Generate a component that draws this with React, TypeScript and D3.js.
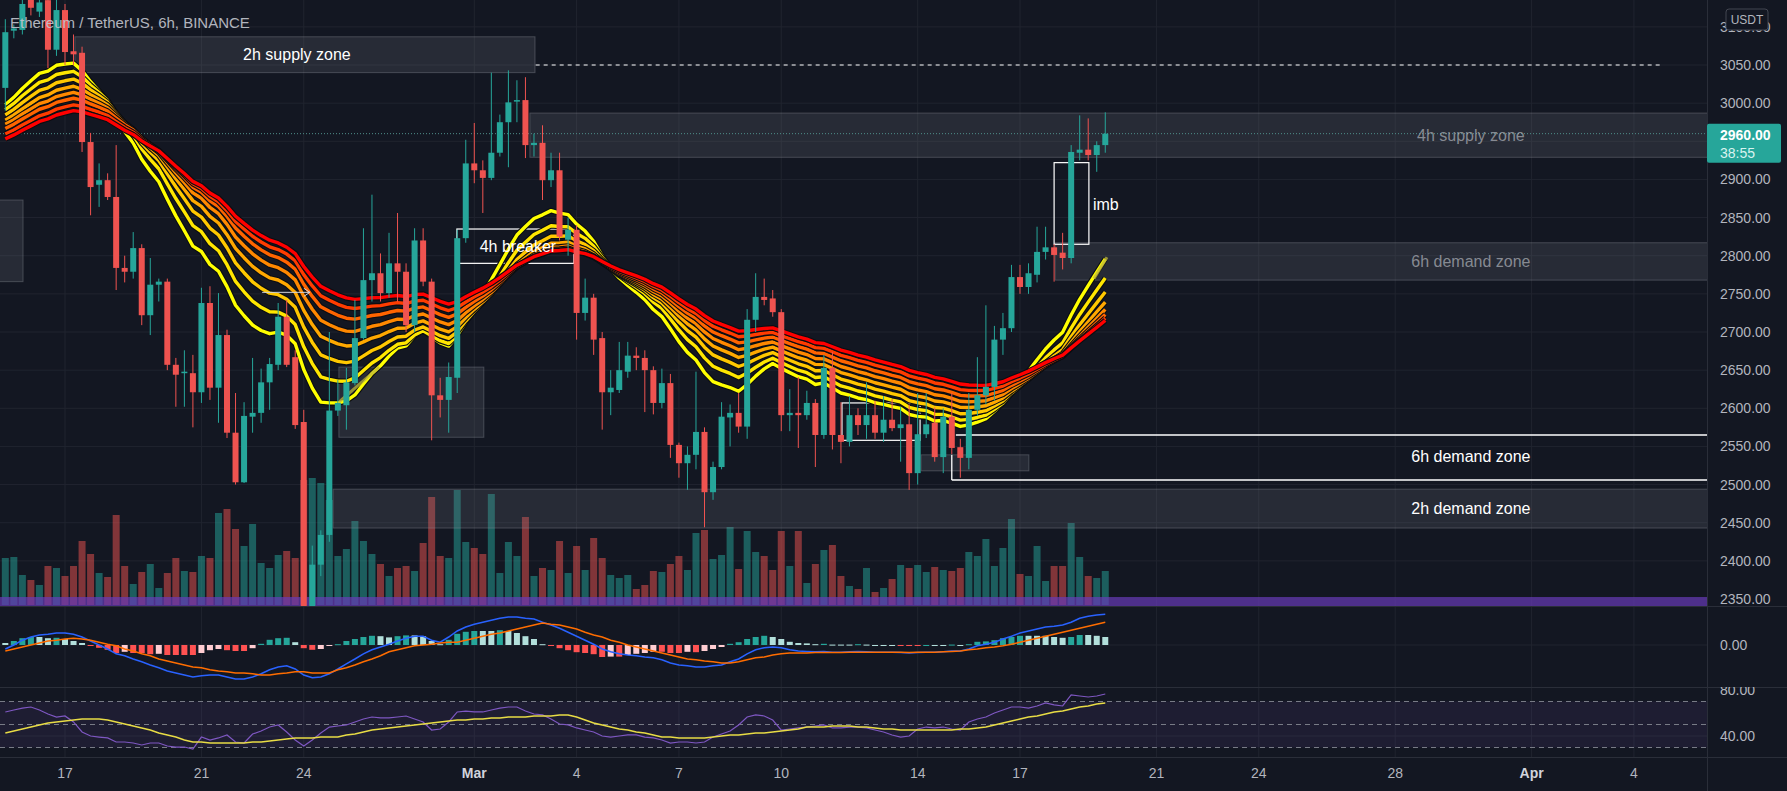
import React from "react";
import * as d3 from "d3";

const DAY = 86400000;
const DAY0 = Date.UTC(2022, 1, 17);
const T0 = Date.UTC(2022, 1, 15, 6);
const BAR_MS = 6 * 3600 * 1000;
const W = 1787, H = 791, PLOT_R = 1707;

const openP = [3020,3095,3096,3140,3120,3135,3070,3122,3068,3066, 2949,2893,2899,2877,2784,2779,2810,2722,2762,2766, 2657,2646,2646,2621,2738,2627,2696,2568,2503,2589, 2594,2634,2657,2720,2667,2582,2330,2395,2434,2597, 2604,2633,2692,2768,2777,2751,2790,2779,2709,2820, 2766,2617,2611,2640,2823,2921,2912,2902,2935,2975, 3002,3004,2945,2948,2899,2912,2821,2834,2725,2745, 2692,2621,2624,2648,2669,2666,2650,2607,2633,2552, 2528,2539,2569,2490,2523,2588,2594,2576,2716,2746, 2744,2726,2591,2594,2591,2607,2565,2653,2565,2556, 2591,2578,2591,2568,2585,2574,2579,2515,2566,2581, 2536,2589,2549,2535,2598,2617,2628,2690,2705,2772, 2759,2775,2805,2811,2804,2797,2935,2939,2932,2945];
const highP = [3110,3103,3140,3150,3145,3150,3140,3130,3090,3074, 2961,2921,2908,2945,2800,2831,2815,2797,2770,2770, 2666,2676,2670,2758,2760,2751,2703,2620,2608,2666, 2652,2666,2738,2742,2676,2598,2420,2440,2700,2637, 2653,2742,2836,2880,2803,2830,2856,2790,2836,2836, 2770,2640,2660,2834,2952,2974,2925,3040,2985,3043, 3030,3034,2960,2971,2935,2935,2850,2840,2770,2750, 2700,2650,2687,2687,2680,2676,2655,2652,2645,2555, 2550,2648,2575,2530,2608,2605,2620,2730,2777,2770, 2755,2730,2625,2641,2623,2612,2670,2674,2608,2616, 2600,2634,2610,2616,2612,2602,2605,2620,2620,2601, 2600,2620,2560,2620,2667,2735,2708,2725,2788,2788, 2790,2838,2838,2815,2830,2945,2984,2980,2950,2988];
const lowP = [2990,3085,3090,3115,3113,3046,3062,3050,3050,2936, 2853,2864,2873,2755,2765,2770,2709,2696,2740,2650, 2602,2602,2575,2607,2611,2581,2561,2500,2502,2568, 2581,2598,2650,2654,2573,2300,2300,2380,2425,2590, 2572,2630,2690,2740,2740,2745,2740,2700,2700,2760, 2558,2588,2568,2620,2817,2895,2856,2899,2930,2916, 2975,2928,2930,2873,2890,2820,2800,2690,2715,2670, 2572,2591,2620,2640,2650,2595,2592,2600,2535,2509, 2493,2520,2444,2480,2520,2550,2568,2560,2700,2735, 2720,2570,2570,2548,2585,2523,2560,2546,2528,2550, 2565,2560,2560,2556,2570,2530,2493,2500,2561,2530, 2515,2540,2509,2520,2590,2605,2610,2670,2700,2750, 2750,2765,2795,2766,2782,2790,2925,2925,2910,2935];
const closeP = [3093,3098,3130,3125,3132,3070,3122,3067,3064,2949, 2890,2899,2877,2784,2779,2810,2722,2762,2766,2657, 2644,2648,2621,2738,2627,2696,2568,2503,2590,2594, 2634,2658,2720,2657,2578,2330,2395,2434,2597,2607, 2634,2692,2768,2777,2751,2790,2779,2709,2820,2766, 2617,2611,2641,2823,2921,2912,2902,2935,2975,3001, 3004,2945,2948,2899,2912,2825,2834,2725,2745,2690, 2621,2627,2650,2669,2666,2650,2607,2633,2552,2528, 2539,2569,2490,2523,2589,2594,2576,2716,2746,2742, 2726,2591,2594,2591,2607,2565,2653,2565,2556,2591, 2578,2591,2568,2585,2574,2579,2515,2566,2579,2536, 2589,2548,2535,2598,2617,2628,2690,2705,2772,2759, 2777,2805,2811,2801,2797,2936,2939,2932,2945,2960];
const volume = [47,48,30,25,20,39,37,29,39,64, 51,32,28,90,39,21,33,41,17,32, 47,34,33,49,47,92,96,76,59,81, 42,37,50,54,47,125,127,122,105,49, 56,84,64,51,41,29,37,39,34,62, 108,49,47,115,63,57,51,111,32,63, 49,88,29,37,35,64,32,59,35,67, 47,30,27,30,16,20,34,33,41,49, 35,72,75,46,50,78,36,74,53,49, 35,74,39,74,22,41,55,60,29,19, 16,37,13,17,26,40,37,40,33,38, 35,34,37,53,49,66,39,57,86,31, 29,59,24,39,39,82,48,29,27,34];
const macdLine = [-10,0,12,20,25,27,30,30,27,20, 10,0,-10,-22,-27,-35,-42,-50,-57,-65, -70,-75,-80,-77,-75,-75,-80,-85,-85,-80, -72,-62,-55,-52,-60,-75,-82,-80,-72,-60, -47,-35,-22,-12,-5,2,10,17,22,22, 12,7,20,35,45,52,57,62,67,70, 70,67,65,57,50,42,32,22,12,2, -10,-17,-22,-25,-27,-30,-32,-37,-45,-50, -52,-55,-55,-52,-50,-42,-35,-22,-12,-7, -5,-7,-12,-15,-16,-17,-16,-18,-18,-17, -16,-17,-18,-18,-18,-19,-20,-19,-18,-18, -17,-15,-15,-10,-2,2,7,15,22,30, 35,40,45,47,50,57,67,72,75,77];
const signalLine = [-15,-10,-5,0,5,10,12,15,17,15, 12,7,2,-2,-10,-15,-22,-27,-35,-40, -45,-50,-55,-57,-62,-65,-67,-70,-70,-72, -75,-75,-72,-70,-67,-67,-70,-70,-70,-62, -57,-50,-42,-35,-27,-17,-12,-7,-2,0, 2,5,7,7,12,17,22,27,30,35, 40,45,50,55,52,50,45,40,32,25, 20,12,7,0,-5,-10,-15,-20,-25,-30, -35,-37,-40,-42,-45,-45,-42,-37,-32,-30, -25,-22,-20,-20,-20,-19,-19,-19,-19,-18, -18,-18,-18,-18,-18,-18,-19,-18,-18,-18, -17,-16,-15,-12,-10,-7,-5,-2,2,7, 12,17,22,27,32,37,42,47,52,57];
const rsiLine = [60.9,62.6,64.3,65.2,62.6,59.1,56.5,57.4,52.2,43.5, 40,39.1,38.3,34.8,34.8,33.9,32.2,33.9,33.9,31.3, 30.4,30.4,28.7,39.1,36.5,38.3,40.9,34.8,33.9,41.7, 44.3,47.8,49.6,43.5,36.5,31.3,36.5,42.6,47.8,48.7, 49.6,52.2,54.8,56.5,55.7,55.7,56.5,57.4,54.8,52.2, 45.2,46.1,52.2,60.9,61.7,60.9,60.9,62.6,64.3,65.2, 65.2,61.7,59.1,58.3,54.8,50.4,49.6,47,45.2,43.5, 40,39.1,40,40.9,40.9,39.1,38.3,36.5,33.9,34.8, 34.8,33.9,34.8,39.1,41.7,44.3,49.6,56.5,58.3,57.4, 53.9,45.2,46.1,47,47.8,48.7,49.6,47,47,47.8, 47.8,47,45.2,43.5,40.9,39.1,40,46.1,47.8,47, 47.8,46.1,45.2,52.2,54.8,56.5,60,62.6,65.2,65.2, 64.3,66.1,68.7,67,66.1,75.7,74.8,73.9,74.8,76.5];
const rsiMA = [42.6,44.3,46.1,47.8,49.6,51.3,52.2,53,53.9,54.8, 54.8,54.8,53.9,52.2,50.4,48.7,47,45.2,42.6,40.9, 39.1,36.5,34.8,34.8,33.9,33.9,33.9,33.9,33.9,34.8, 34.8,35.7,36.5,37.4,38.3,38.3,38.3,39.1,39.1,39.1, 40.9,41.7,43.5,45.2,46.1,47,47.8,48.7,49.6,50.4, 51.3,52.2,53,53.9,53.9,54.8,54.8,55.7,55.7,56.5, 56.5,56.5,57.4,57.4,57.4,58.3,58.3,56.5,53.9,51.3, 49.6,47.8,46.1,45.2,43.5,42.6,40.9,39.1,39.1,38.3, 38.3,38.3,38.3,39.1,40,40.9,40.9,41.7,42.6,42.6, 43.5,44.3,45.2,46.1,47.8,47.8,47.8,48.7,48.7,48.7, 47.8,47.8,47,46.1,46.1,45.2,45.2,45.2,45.2,45.2, 45.2,45.2,46.1,46.1,47,47.8,49.6,51.3,53,54.8, 56.5,57.4,59.1,60.9,61.7,63.5,65.2,66.1,67.8,68.7];

const emaLengths = [20, 25, 30, 35, 40, 45, 50, 55];
const emaSeeds = [2988, 2983, 2977, 2971, 2966, 2961, 2954, 2948];
const ribbonColors = ["#ffff00", "#ffe600", "#ffc800", "#ffa800", "#ff8800", "#ff6400", "#ff3c00", "#ff0000"];

const priceTicks = d3.range(2350, 3101, 50);
const tickDates = [[2022,1,17],[2022,1,21],[2022,1,24],[2022,2,1],[2022,2,4],[2022,2,7],[2022,2,10],[2022,2,14],[2022,2,17],[2022,2,21],[2022,2,24],[2022,2,28],[2022,3,1],[2022,3,4]];
const tickLabels = ["17","21","24","Mar","4","7","10","14","17","21","24","28","Apr","4"];

const zoneBoxes = [
  { d0: 0.29, d1: 13.78, p0: 3040, p1: 3087, label: "2h supply zone", labelD: 6.8, bright: true },
  { d0: 13.63, d1: 48.5, p0: 2929, p1: 2987, label: "4h supply zone", labelD: 41.22, bright: false },
  { d0: 29.03, d1: 48.5, p0: 2768, p1: 2817, label: "6h demand zone", labelD: 41.22, bright: false },
  { d0: 7.86, d1: 48.5, p0: 2443, p1: 2494, label: "2h demand zone", labelD: 41.22, bright: true },
  { d0: 8.03, d1: 12.28, p0: 2562, p1: 2654, label: "", labelD: 0, bright: false },
  { d0: -1.95, d1: -1.23, p0: 2766, p1: 2873, label: "", labelD: 0, bright: false },
  { d0: 25.1, d1: 28.26, p0: 2518, p1: 2539, label: "", labelD: 0, bright: false },
];
const outlineBoxes = [
  { d0: 29.0, d1: 30.02, p0: 2815, p1: 2922 },
  { d0: 11.49, d1: 14.92, p0: 2790, p1: 2835 },
  { d0: 22.78, d1: 25.07, p0: 2558, p1: 2607 },
];
const freeLabels = [
  { text: "imb", d: 30.14, p: 2867, anchor: "start" },
  { text: "4h breaker", d: 13.28, p: 2812, anchor: "middle" },
  { text: "6h demand zone", d: 41.22, p: 2537, anchor: "middle" },
];
const FONT = "'Liberation Sans', Arial, sans-serif";

export default function App() {
  const x = d3.scaleUtc().domain([new Date(DAY0), new Date(Date.UTC(2022, 2, 17))]).range([65, 1020]);
  const y = d3.scaleLinear().domain([2350, 3050]).range([599, 65]);
  const yVol = d3.scaleLinear().domain([0, 140]).range([605, 465]);
  const yMacd = d3.scaleLinear().domain([-100, 100]).range([685, 605]);
  const yRsi = d3.scaleLinear().domain([40, 80]).range([736, 690]);
  const xc = (i: number) => x(new Date(T0 + i * BAR_MS));
  const xd = (d: number) => x(new Date(DAY0 + d * DAY));

  const emas = emaLengths.map((len, k) => {
    const a = 2 / (len + 1);
    let e = emaSeeds[k];
    return closeP.map((c) => (e = e + a * (c - e)));
  });
  const priceLine = d3.line<number>().x((_, i) => xc(i)).y((v) => y(v)).curve(d3.curveLinear);
  const macdGen = d3.line<number>().x((_, i) => xc(i)).y((v) => yMacd(v));
  const rsiGen = d3.line<number>().x((_, i) => xc(i)).y((v) => yRsi(v));
  const hist = macdLine.map((m, i) => m - signalLine[i]);

  const up = (i: number) => closeP[i] >= openP[i];
  const teal = "#26a69a", red = "#ef5350";
  const gridC = "#20242f";
  const last = closeP[closeP.length - 1];
  const tagTop = y(last) - 10, tagBot = y(last) + 29;
  const axisTicks = priceTicks.filter((p) => y(p) + 7 < tagTop || y(p) - 7 > tagBot);

  return (
    <svg width={W} height={H} style={{ position: "fixed", left: 0, top: 0, background: "#131722", fontFamily: FONT }}>
      <defs>
        <clipPath id="mainClip"><rect x={0} y={0} width={PLOT_R} height={606} /></clipPath>
        <clipPath id="macdClip"><rect x={0} y={606} width={PLOT_R} height={81} /></clipPath>
        <clipPath id="rsiClip"><rect x={0} y={687} width={PLOT_R} height={70} /></clipPath>
        <clipPath id="rsiAxisClip"><rect x={PLOT_R} y={687} width={80} height={70} /></clipPath>
      </defs>
      <rect x={0} y={0} width={W} height={H} fill="#131722" />

      {/* grid */}
      {tickDates.map((d, k) => {
        const xx = x(new Date(Date.UTC(d[0], d[1], d[2])));
        return <line key={"vg" + k} x1={xx} x2={xx} y1={0} y2={757} stroke={gridC} strokeWidth={1} />;
      })}
      {priceTicks.map((p) => (
        <line key={"hg" + p} x1={0} x2={PLOT_R} y1={y(p)} y2={y(p)} stroke={gridC} strokeWidth={1} />
      ))}
      <line x1={0} x2={PLOT_R} y1={yMacd(0)} y2={yMacd(0)} stroke={gridC} />
      <line x1={0} x2={PLOT_R} y1={yRsi(40)} y2={yRsi(40)} stroke={gridC} />

      {/* main pane */}
      <g clipPath="url(#mainClip)">
        {volume.map((v, i) => (
          <rect key={"v" + i} x={xc(i) - 3.5} width={7} y={yVol(v)} height={yVol(0) - yVol(v)}
            fill={up(i) ? "rgba(38,166,154,0.5)" : "rgba(239,83,80,0.5)"} />
        ))}
        <rect x={0} y={597} width={PLOT_R} height={9} fill="#673ab7" opacity={0.7} />
        {zoneBoxes.map((z, k) => (
          <rect key={"z" + k} x={xd(z.d0)} width={xd(z.d1) - xd(z.d0)} y={y(z.p1)} height={y(z.p0) - y(z.p1)}
            fill="rgba(120,123,134,0.2)" stroke="rgba(149,152,161,0.35)" strokeWidth={1} />
        ))}
        {outlineBoxes.map((z, k) => (
          <rect key={"o" + k} x={xd(z.d0)} width={xd(z.d1) - xd(z.d0)} y={y(z.p1)} height={y(z.p0) - y(z.p1)}
            fill="none" stroke="#ffffff" strokeWidth={1.2} />
        ))}
        <line x1={xd(26.12)} x2={PLOT_R} y1={y(2565)} y2={y(2565)} stroke="#ffffff" strokeWidth={1.3} />
        <line x1={xd(26.0)} x2={PLOT_R} y1={y(2506)} y2={y(2506)} stroke="#ffffff" strokeWidth={1.3} />
        <line x1={xd(26.0)} x2={xd(26.0)} y1={y(2539)} y2={y(2506)} stroke="#ffffff" strokeWidth={1.3} />
        <line x1={xd(13.8)} x2={xd(46.76)} y1={y(3050)} y2={y(3050)} stroke="#ffffff" strokeWidth={1} strokeDasharray="4 4" />
        <line x1={0} x2={PLOT_R} y1={y(last)} y2={y(last)} stroke="#4f8f8a" strokeWidth={1} strokeDasharray="1 2" />

        {emas.map((e, k) => (
          <g key={"ema" + k}>
            <path d={priceLine(e) || ""} fill="none" stroke="#0b0d12" strokeWidth={5.6} strokeLinejoin="round" />
            <path d={priceLine(e) || ""} fill="none" stroke={ribbonColors[k]} strokeWidth={3.4} strokeLinejoin="round" />
          </g>
        ))}
        <line x1={xd(8.03)} y1={y(2608)} x2={xd(9.21)} y2={y(2654)} stroke="rgba(190,180,60,0.75)" strokeWidth={3} />
        <line x1={xd(30.17)} y1={y(2770)} x2={xd(30.55)} y2={y(2798)} stroke="rgba(190,180,60,0.75)" strokeWidth={3} />
        <line x1={xd(5.78)} x2={xd(7.18)} y1={y(2752)} y2={y(2752)} stroke="#d1d4dc" strokeWidth={1} />
        <path d={`M${xd(7.18) - 6},${y(2752) - 4} L${xd(7.18)},${y(2752)} L${xd(7.18) - 6},${y(2752) + 4}`} fill="none" stroke="#d1d4dc" strokeWidth={1} />

        {closeP.map((c, i) => {
          const col = up(i) ? teal : red;
          const top = y(Math.max(openP[i], c));
          const bot = y(Math.min(openP[i], c));
          return (
            <g key={"c" + i}>
              <line x1={xc(i)} x2={xc(i)} y1={y(highP[i])} y2={y(lowP[i])} stroke={col} strokeWidth={1} />
              <rect x={xc(i) - 3} width={6} y={top} height={Math.max(1, bot - top)} fill={col} />
            </g>
          );
        })}

        {zoneBoxes.filter((z) => z.label).map((z, k) => (
          <text key={"zl" + k} x={xd(z.labelD)} y={y((z.p0 + z.p1) / 2)} textAnchor="middle" dominantBaseline="central"
            fontSize={16} fill={z.bright ? "#ffffff" : "rgba(200,203,210,0.6)"}>{z.label}</text>
        ))}
        {freeLabels.map((l, k) => (
          <text key={"fl" + k} x={xd(l.d)} y={y(l.p)} textAnchor={l.anchor as any} dominantBaseline="central"
            fontSize={16} fill="#ffffff">{l.text}</text>
        ))}
      </g>

      {/* MACD pane */}
      <g clipPath="url(#macdClip)">
        {hist.map((h, i) => {
          const prev = i > 0 ? hist[i - 1] : h;
          const col = h >= 0 ? (prev < h ? "#26a69a" : "#b2dfdb") : (prev < h ? "#ffcdd2" : "#ff5252");
          const y0 = yMacd(0), y1 = yMacd(h);
          return <rect key={"h" + i} x={xc(i) - 3} width={6} y={Math.min(y0, y1)} height={Math.max(1, Math.abs(y1 - y0))} fill={col} />;
        })}
        <path d={macdGen(macdLine) || ""} fill="none" stroke="#2962ff" strokeWidth={1.5} />
        <path d={macdGen(signalLine) || ""} fill="none" stroke="#ff6d00" strokeWidth={1.5} />
      </g>

      {/* RSI pane */}
      <g clipPath="url(#rsiClip)">
        <rect x={0} width={PLOT_R} y={yRsi(70)} height={yRsi(30) - yRsi(70)} fill="rgba(126,87,194,0.1)" />
        {[70, 50, 30].map((v) => (
          <line key={"rl" + v} x1={0} x2={PLOT_R} y1={yRsi(v)} y2={yRsi(v)} stroke="#787b86" strokeWidth={1} strokeDasharray="5 4" />
        ))}
        <path d={rsiGen(rsiLine) || ""} fill="none" stroke="#7e57c2" strokeWidth={1.2} />
        <path d={rsiGen(rsiMA) || ""} fill="none" stroke="#e8dc45" strokeWidth={1.5} />
      </g>

      <line x1={0} x2={W} y1={606.5} y2={606.5} stroke="#2a2e39" />
      <line x1={0} x2={W} y1={687.5} y2={687.5} stroke="#2a2e39" />
      <line x1={0} x2={W} y1={757.5} y2={757.5} stroke="#2a2e39" />
      <line x1={PLOT_R + 0.5} x2={PLOT_R + 0.5} y1={0} y2={H} stroke="#2a2e39" />

      {/* price axis */}
      {axisTicks.map((p) => (
        <text key={"pt" + p} x={PLOT_R + 13} y={y(p)} dominantBaseline="central" fontSize={14} fill="#b2b5be">{p.toFixed(2)}</text>
      ))}
      <text x={PLOT_R + 13} y={yMacd(0)} dominantBaseline="central" fontSize={14} fill="#b2b5be">{(0).toFixed(2)}</text>
      <g clipPath="url(#rsiAxisClip)">
        {[80, 40].map((v) => (
          <text key={"ra" + v} x={PLOT_R + 13} y={yRsi(v)} dominantBaseline="central" fontSize={14} fill="#b2b5be">{v.toFixed(2)}</text>
        ))}
      </g>
      <rect x={1726} y={9} width={42} height={21} rx={3} fill="#131722" stroke="#434651" />
      <text x={1747} y={19.5} textAnchor="middle" dominantBaseline="central" fontSize={12} fill="#b2b5be">USDT</text>
      <rect x={PLOT_R} y={tagTop} width={74} height={39} rx={2} fill="#26a69a" />
      <text x={PLOT_R + 13} y={y(last) + 1} dominantBaseline="central" fontSize={14} fontWeight="bold" fill="#ffffff">{last.toFixed(2)}</text>
      <text x={PLOT_R + 13} y={y(last) + 19} dominantBaseline="central" fontSize={14} fill="#d8f3f0">38:55</text>

      {/* time axis */}
      {tickDates.map((d, k) => {
        const isMonth = tickLabels[k] === "Mar" || tickLabels[k] === "Apr";
        return (
          <text key={"tt" + k} x={x(new Date(Date.UTC(d[0], d[1], d[2])))} y={773} textAnchor="middle" dominantBaseline="central"
            fontSize={14} fontWeight={isMonth ? "bold" : "normal"} fill={isMonth ? "#d1d4dc" : "#b2b5be"}>{tickLabels[k]}</text>
        );
      })}

      <text x={10} y={22} dominantBaseline="central" fontSize={15} fill="#c3c6ce" opacity={0.9}>Ethereum / TetherUS, 6h, BINANCE</text>
    </svg>
  );
}
